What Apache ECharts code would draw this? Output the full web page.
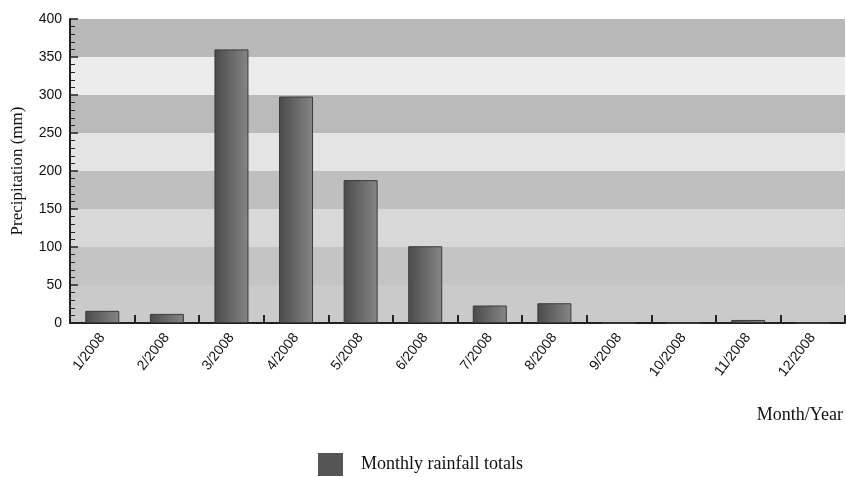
<!DOCTYPE html>
<html>
<head>
<meta charset="utf-8">
<script src="https://cdn.jsdelivr.net/npm/echarts@6/dist/echarts.min.js"></script>
<style>
  html, body { margin: 0; padding: 0; background: #fff; }
  #chart { width: 846px; height: 477px; }
</style>
</head>
<body>
<div id="chart"></div>
<script>
// Monthly rainfall, 2008
const months = ['1/2008', '2/2008', '3/2008', '4/2008', '5/2008', '6/2008',
                '7/2008', '8/2008', '9/2008', '10/2008', '11/2008', '12/2008'];
const rainfall = [16, 12, 360, 298, 188, 101, 23, 26, 0, 0, 4, 0];
const yTicks = [0, 50, 100, 150, 200, 250, 300, 350, 400];

const seriesName = 'Monthly rainfall totals';

// Alternating background bands, bottom to top
const bandColors = ['#cacaca', '#c4c4c4', '#d8d8d8', '#bfbfbf',
                    '#e4e4e4', '#bababa', '#ececec', '#b9b9b9'];

const chart = echarts.init(document.getElementById('chart'));
chart.setOption({
  animation: false,
  backgroundColor: '#ffffff',
  grid: { left: 70, right: 1, top: 19, bottom: 154, containLabel: false, outerBoundsMode: 'none' },
  legend: {
    left: 318, top: 453, padding: 0,
    itemWidth: 25, itemHeight: 23, itemGap: 10,
    icon: 'rect',
    textStyle: { fontFamily: '"Liberation Serif", "Times New Roman", serif', fontSize: 18, color: '#111', padding: [8, 0, 0, 13] },
    data: [{ name: seriesName, itemStyle: { color: '#555555', borderWidth: 0 } }]
  },
  xAxis: {
    type: 'category',
    data: months,
    axisLine: { lineStyle: { color: '#222', width: 2 } },
    axisTick: { show: true, inside: true, length: 8, alignWithLabel: false, lineStyle: { color: '#222', width: 2 } },
    axisLabel: {
      rotate: 52, margin: 12, interval: 0,
      fontFamily: '"Liberation Sans", Arial, sans-serif', fontSize: 14, color: '#111'
    },
    splitLine: { show: false }
  },
  yAxis: {
    type: 'value',
    min: yTicks[0], max: yTicks[yTicks.length - 1], interval: 50,
    name: 'Precipitation (mm)',
    nameLocation: 'middle',
    nameGap: 44,
    nameTextStyle: { fontFamily: '"Liberation Serif", "Times New Roman", serif', fontSize: 17, color: '#111' },
    axisLine: { show: true, lineStyle: { color: '#222', width: 2 } },
    axisTick: { show: true, inside: true, length: 8, lineStyle: { color: '#222', width: 1.5 } },
    minorTick: { show: true, splitNumber: 5, length: 5, lineStyle: { color: '#222', width: 1 } },
    axisLabel: { margin: 8, fontFamily: '"Liberation Sans", Arial, sans-serif', fontSize: 14, color: '#111' },
    splitLine: { show: false },
    splitArea: { show: true, areaStyle: { color: bandColors } }
  },
  graphic: [{
    type: 'text',
    right: 3, top: 406,
    style: {
      text: 'Month/Year',
      font: '18px "Liberation Serif", "Times New Roman", serif',
      fill: '#111'
    }
  }],
  series: [{
    name: seriesName,
    type: 'bar',
    data: rainfall,
    barWidth: 34,
    itemStyle: {
      color: new echarts.graphic.LinearGradient(0, 0, 1, 0, [
        { offset: 0, color: '#4a4a4a' },
        { offset: 1, color: '#868686' }
      ]),
      borderColor: '#3a3a3a',
      borderWidth: 1
    }
  }]
});
</script>
</body>
</html>
